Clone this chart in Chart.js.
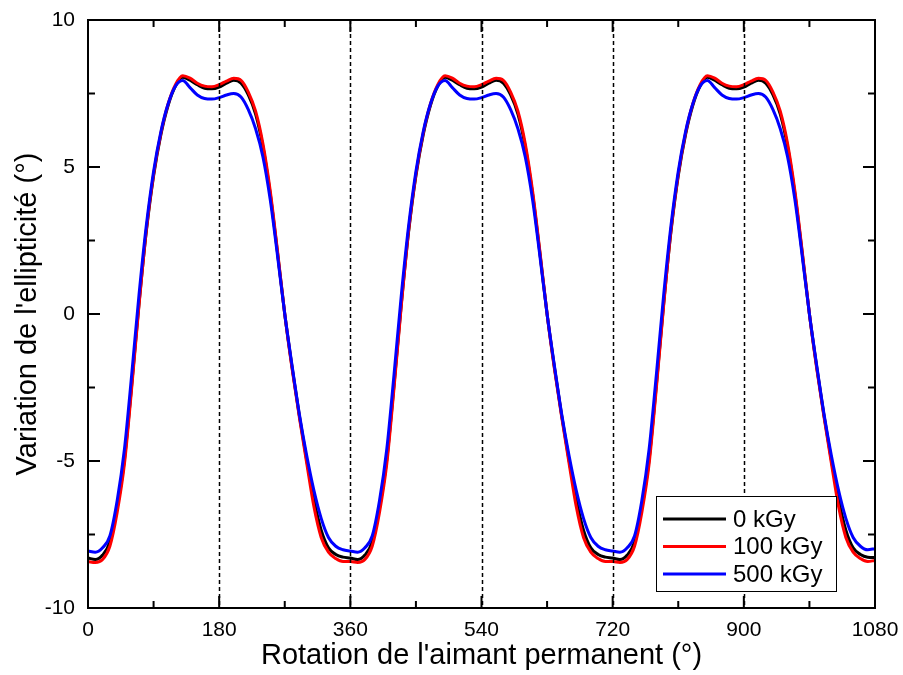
<!DOCTYPE html>
<html>
<head>
<meta charset="utf-8">
<script src="https://cdn.jsdelivr.net/npm/chart.js@4"></script>
<style>
    html, body { margin: 0; padding: 0; background: #fff; }
    #wrap { width: 903px; height: 675px; }
</style>
</head>
<body>
<div id="wrap"><canvas id="ellip-chart" width="903" height="675"></canvas></div>
<script>
    "use strict";

    // Angle (deg)
    var angles = [0, 10, 20, 30, 40, 50, 60, 70, 80, 90, 100, 110, 120, 130, 140, 150, 160, 170,
        180, 190, 200, 210, 220, 230, 240, 250, 260, 270, 280, 290, 300, 310, 320, 330, 340, 350,
        360, 370, 380, 390, 400, 410, 420, 430, 440, 450, 460, 470, 480, 490, 500, 510, 520, 530,
        540, 550, 560, 570, 580, 590, 600, 610, 620, 630, 640, 650, 660, 670, 680, 690, 700, 710,
        720, 730, 740, 750, 760, 770, 780, 790, 800, 810, 820, 830, 840, 850, 860, 870, 880, 890,
        900, 910, 920, 930, 940, 950, 960, 970, 980, 990, 1000, 1010, 1020, 1030, 1040, 1050, 1060, 1070,
        1080];

    var dose0 = [-8.30, -8.35, -8.20, -7.75, -6.60, -4.95, -2.40, 0.35, 2.80, 4.70, 6.10, 7.10, 7.75, 8.05, 7.95, 7.80, 7.68, 7.66,
        7.72, 7.85, 7.95, 7.85, 7.45, 6.80, 5.70, 4.10, 2.10, 0.00, -1.80, -3.45, -4.95, -6.30, -7.35, -7.95, -8.18, -8.27,
        -8.30, -8.35, -8.20, -7.75, -6.60, -4.95, -2.40, 0.35, 2.80, 4.70, 6.10, 7.10, 7.75, 8.05, 7.95, 7.80, 7.68, 7.66,
        7.72, 7.85, 7.95, 7.85, 7.45, 6.80, 5.70, 4.10, 2.10, 0.00, -1.80, -3.45, -4.95, -6.30, -7.35, -7.95, -8.18, -8.27,
        -8.30, -8.35, -8.20, -7.75, -6.60, -4.95, -2.40, 0.35, 2.80, 4.70, 6.10, 7.10, 7.75, 8.05, 7.95, 7.80, 7.68, 7.66,
        7.72, 7.85, 7.95, 7.85, 7.45, 6.80, 5.70, 4.10, 2.10, 0.00, -1.80, -3.45, -4.95, -6.30, -7.35, -7.95, -8.18, -8.27,
        -8.28];

    var dose100 = [-8.42, -8.45, -8.35, -7.90, -6.75, -5.10, -2.50, 0.30, 2.85, 4.75, 6.15, 7.15, 7.80, 8.10, 8.02, 7.85, 7.75, 7.73,
        7.80, 7.92, 8.02, 7.95, 7.55, 6.90, 5.80, 4.20, 2.15, 0.00, -1.85, -3.50, -5.05, -6.55, -7.60, -8.10, -8.32, -8.42,
        -8.42, -8.45, -8.35, -7.90, -6.75, -5.10, -2.50, 0.30, 2.85, 4.75, 6.15, 7.15, 7.80, 8.10, 8.02, 7.85, 7.75, 7.73,
        7.80, 7.92, 8.02, 7.95, 7.55, 6.90, 5.80, 4.20, 2.15, 0.00, -1.85, -3.50, -5.05, -6.55, -7.60, -8.10, -8.32, -8.42,
        -8.42, -8.45, -8.35, -7.90, -6.75, -5.10, -2.50, 0.30, 2.85, 4.75, 6.15, 7.15, 7.80, 8.10, 8.02, 7.85, 7.75, 7.73,
        7.80, 7.92, 8.02, 7.95, 7.55, 6.90, 5.80, 4.20, 2.15, 0.00, -1.85, -3.50, -5.05, -6.55, -7.60, -8.10, -8.32, -8.42,
        -8.38];

    var dose500 = [-8.06, -8.10, -7.95, -7.55, -6.35, -4.60, -2.05, 0.65, 3.00, 4.85, 6.20, 7.15, 7.75, 7.94, 7.70, 7.45, 7.33, 7.31,
        7.36, 7.45, 7.50, 7.38, 6.95, 6.30, 5.35, 3.90, 2.00, 0.00, -1.75, -3.40, -4.80, -6.00, -6.95, -7.60, -7.90, -8.02,
        -8.06, -8.10, -7.95, -7.55, -6.35, -4.60, -2.05, 0.65, 3.00, 4.85, 6.20, 7.15, 7.75, 7.94, 7.70, 7.45, 7.33, 7.31,
        7.36, 7.45, 7.50, 7.38, 6.95, 6.30, 5.35, 3.90, 2.00, 0.00, -1.75, -3.40, -4.80, -6.00, -6.95, -7.60, -7.90, -8.02,
        -8.06, -8.10, -7.95, -7.55, -6.35, -4.60, -2.05, 0.65, 3.00, 4.85, 6.20, 7.15, 7.75, 7.94, 7.70, 7.45, 7.33, 7.31,
        7.36, 7.45, 7.50, 7.38, 6.95, 6.30, 5.35, 3.90, 2.00, 0.00, -1.75, -3.40, -4.80, -6.00, -6.95, -7.60, -7.90, -8.02,
        -7.98];

    var seriesLabels = ["0 kGy", "100 kGy", "500 kGy"];
    var seriesColors = ["#000000", "#ff0000", "#0000ff"];
    var markerAngles = [180, 360, 540, 720, 900];

    var FONT = "'Liberation Sans', Arial, sans-serif";

    function toPoints(values) {
        return values.map(function (v, i) { return { x: angles[i], y: v }; });
    }

    // Frame, inward ticks, dashed markers, legend
    var framePlugin = {
        id: "frame",
        afterDatasetsDraw: function (chart) {
            var ctx = chart.ctx;
            var a = chart.chartArea;
            var xs = chart.scales.x;
            var ys = chart.scales.y;
            ctx.save();

            // dashed vertical lines
            ctx.strokeStyle = "#000";
            ctx.lineWidth = 1.5;
            ctx.setLineDash([4, 3]);
            markerAngles.forEach(function (d) {
                var px = Math.round(xs.getPixelForValue(d)) + 0.5;
                ctx.beginPath();
                ctx.moveTo(px, a.top);
                ctx.lineTo(px, a.bottom);
                ctx.stroke();
            });
            ctx.setLineDash([]);

            // ticks
            ctx.lineWidth = 2;
            var d, v, px, py, len;
            for (d = 0; d <= 1080; d += 90) {
                px = xs.getPixelForValue(d);
                len = (d % 180 === 0) ? 12 : 7;
                ctx.beginPath();
                ctx.moveTo(px, a.bottom); ctx.lineTo(px, a.bottom - len);
                ctx.moveTo(px, a.top); ctx.lineTo(px, a.top + len);
                ctx.stroke();
            }
            for (v = -10; v <= 10; v += 2.5) {
                py = ys.getPixelForValue(v);
                len = (v % 5 === 0) ? 12 : 7;
                ctx.beginPath();
                ctx.moveTo(a.left, py); ctx.lineTo(a.left + len, py);
                ctx.moveTo(a.right, py); ctx.lineTo(a.right - len, py);
                ctx.stroke();
            }

            // frame
            ctx.strokeRect(a.left, a.top, a.right - a.left, a.bottom - a.top);

            // legend
            var lx = 656, ly = 496, lw = 180, lh = 95;
            ctx.fillStyle = "#fff";
            ctx.fillRect(lx, ly, lw, lh);
            ctx.lineWidth = 1;
            ctx.strokeStyle = "#000";
            ctx.strokeRect(lx + 0.5, ly + 0.5, lw, lh);
            ctx.font = "24px " + FONT;
            ctx.textBaseline = "middle";
            ctx.textAlign = "left";
            seriesLabels.forEach(function (lab, i) {
                var yy = ly + 23 + i * 27.5;
                ctx.strokeStyle = seriesColors[i];
                ctx.lineWidth = 3;
                ctx.beginPath();
                ctx.moveTo(lx + 7, yy);
                ctx.lineTo(lx + 70, yy);
                ctx.stroke();
                ctx.fillStyle = "#000";
                ctx.fillText(lab, lx + 77, yy + 1);
            });
            ctx.restore();
        }
    };

    var ctx1 = document.getElementById("ellip-chart").getContext("2d");
    var myChart1 = new Chart(ctx1, {
        type: "line",
        data: {
            datasets: [
                { label: seriesLabels[0], data: toPoints(dose0), borderColor: seriesColors[0], order: 3 },
                { label: seriesLabels[1], data: toPoints(dose100), borderColor: seriesColors[1], order: 2 },
                { label: seriesLabels[2], data: toPoints(dose500), borderColor: seriesColors[2], order: 1 }
            ]
        },
        options: {
            responsive: false,
            animation: false,
            devicePixelRatio: 1,
            layout: { padding: { top: 20, right: 28, left: 0, bottom: 0 } },
            elements: {
                point: { radius: 0 },
                line: { borderWidth: 3, tension: 0.4, cubicInterpolationMode: "monotone", fill: false }
            },
            plugins: {
                legend: { display: false },
                tooltip: { enabled: false }
            },
            scales: {
                x: {
                    type: "linear",
                    min: 0,
                    max: 1080,
                    grid: { display: false, drawTicks: false },
                    border: { display: false },
                    ticks: {
                        stepSize: 180,
                        padding: 10,
                        color: "#000",
                        maxRotation: 0,
                        font: { family: FONT, size: 21 },
                        callback: function (value) { return String(value); }
                    },
                    title: {
                        display: true,
                        text: "Rotation de l'aimant permanent (°)",
                        color: "#000",
                        font: { family: FONT, size: 29 },
                        padding: { top: 0, bottom: 2 }
                    },
                    afterFit: function (scale) {
                        scale.height = 67;
                        scale.paddingLeft = 0;
                        scale.paddingRight = 0;
                    }
                },
                y: {
                    min: -10,
                    max: 10,
                    grid: { display: false, drawTicks: false },
                    border: { display: false },
                    ticks: {
                        stepSize: 5,
                        padding: 13,
                        color: "#000",
                        font: { family: FONT, size: 21 }
                    },
                    title: {
                        display: true,
                        text: "Variation de l'ellipticité (°)",
                        color: "#000",
                        font: { family: FONT, size: 29 },
                        padding: { top: 11, bottom: 0 }
                    },
                    afterFit: function (scale) {
                        scale.width = 88;
                        scale.paddingTop = 0;
                        scale.paddingBottom = 0;
                    }
                }
            }
        },
        plugins: [framePlugin]
    });
</script>
</body>
</html>
